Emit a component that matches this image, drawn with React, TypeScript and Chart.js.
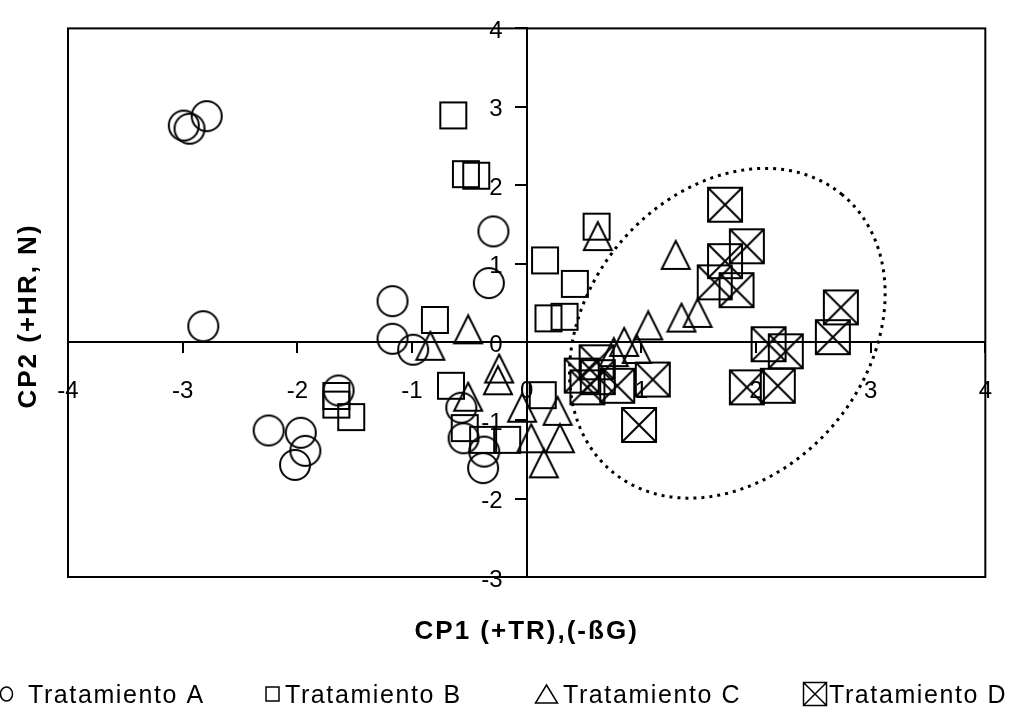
import React, { useEffect, useRef } from 'react';
import { Chart, registerables } from 'chart.js';

Chart.register(...registerables);

// ---- data ----
const seriesLabels = ['Tratamiento A', 'Tratamiento B', 'Tratamiento C', 'Tratamiento D'];

const treatmentAX = [-2.99, -2.94, -2.79, -2.82, -1.17, -1.17, -0.99, -0.29, -0.33, -1.64, -2.25, -1.97, -1.93, -2.02, -0.57, -0.55, -0.37, -0.38];
const treatmentAY = [2.76, 2.72, 2.88, 0.2, 0.52, 0.04, -0.1, 1.41, 0.75, -0.62, -1.13, -1.16, -1.39, -1.57, -0.84, -1.23, -1.4, -1.61];

const treatmentBX = [-0.64, -0.53, -0.44, -0.8, -0.66, -1.66, -1.66, -1.53, -0.54, -0.38, -0.17, 0.61, 0.16, 0.42, 0.19, 0.33, 0.14];
const treatmentBY = [2.89, 2.14, 2.12, 0.28, -0.56, -0.69, -0.8, -0.96, -1.1, -1.25, -1.25, 1.47, 1.04, 0.74, 0.3, 0.32, -0.68];

const treatmentCX = [-0.51, -0.84, -0.24, -0.25, -0.51, -0.04, 0.62, 1.3, 1.06, 1.35, 1.49, 0.85, 0.96, 0.76, 0.27, 0.04, 0.29, 0.15];
const treatmentCY = [0.16, -0.05, -0.34, -0.49, -0.7, -0.84, 1.35, 1.11, 0.21, 0.31, 0.37, 0.0, -0.09, -0.13, -0.88, -1.23, -1.23, -1.55];

const treatmentDX = [1.73, 1.92, 1.73, 1.64, 1.83, 2.74, 2.67, 2.11, 2.26, 1.92, 2.19, 1.1, 0.98, 0.61, 0.79, 0.53, 0.48, 0.62];
const treatmentDY = [1.75, 1.22, 1.03, 0.76, 0.66, 0.44, 0.06, -0.03, -0.12, -0.58, -0.56, -0.48, -1.06, -0.26, -0.56, -0.58, -0.43, -0.45];

const xRange = [-4, 4];
const yRange = [-3, 4];

// dotted ellipse (data units): centre and two conjugate half-axis vectors
const ellipseCenter = [1.75, 0.11];
const ellipseAxisU = [0.996, 1.776];
const ellipseAxisV = [0.95, -1.128];

const xTitle = 'CP1 (+TR),(-ßG)';
const yTitle = 'CP2 (+HR, N)';

const FONT = "'Liberation Sans', Arial, Helvetica, sans-serif";

function toPoints(xs: number[], ys: number[]) {
  return xs.map((x, i) => ({ x, y: ys[i] }));
}

function makeImg(w: number, h: number, draw: (ctx: CanvasRenderingContext2D) => void) {
  const c = document.createElement('canvas');
  c.width = w;
  c.height = h;
  const ctx = c.getContext('2d') as CanvasRenderingContext2D;
  ctx.strokeStyle = '#000';
  ctx.lineWidth = 2;
  draw(ctx);
  return c;
}

function drawSymbol(ctx: CanvasRenderingContext2D, kind: number, cx: number, cy: number) {
  ctx.save();
  ctx.strokeStyle = '#000';
  ctx.lineWidth = 1.5;
  ctx.beginPath();
  if (kind === 0) {
    ctx.ellipse(cx, cy, 6, 7, 0, 0, Math.PI * 2);
  } else if (kind === 1) {
    ctx.rect(cx - 6.5, cy - 7, 13, 14);
  } else if (kind === 2) {
    ctx.moveTo(cx, cy - 9);
    ctx.lineTo(cx + 11, cy + 9);
    ctx.lineTo(cx - 11, cy + 9);
    ctx.closePath();
  } else {
    ctx.rect(cx - 11.5, cy - 11.5, 23, 23);
    ctx.moveTo(cx - 11.5, cy - 11.5);
    ctx.lineTo(cx + 11.5, cy + 11.5);
    ctx.moveTo(cx + 11.5, cy - 11.5);
    ctx.lineTo(cx - 11.5, cy + 11.5);
  }
  ctx.stroke();
  ctx.restore();
}

const decorPlugin = {
  id: 'decor',
  beforeDatasetsDraw(chart: any) {
    const { ctx, scales } = chart;
    const xs = scales.x;
    const ys = scales.y;
    ctx.save();
    ctx.strokeStyle = '#000';
    ctx.lineWidth = 3;
    ctx.setLineDash([3, 5]);
    ctx.beginPath();
    const n = 240;
    for (let i = 0; i <= n; i++) {
      const t = (i / n) * Math.PI * 2;
      const vx = ellipseCenter[0] + ellipseAxisU[0] * Math.cos(t) + ellipseAxisV[0] * Math.sin(t);
      const vy = ellipseCenter[1] + ellipseAxisU[1] * Math.cos(t) + ellipseAxisV[1] * Math.sin(t);
      const px = xs.getPixelForValue(vx);
      const py = ys.getPixelForValue(vy);
      if (i === 0) ctx.moveTo(px, py);
      else ctx.lineTo(px, py);
    }
    ctx.stroke();
    ctx.restore();

    // y tick labels, placed left of the centred vertical axis
    ctx.save();
    ctx.fillStyle = '#000';
    ctx.font = `24px ${FONT}`;
    ctx.textAlign = 'right';
    ctx.textBaseline = 'middle';
    const axisX = xs.getPixelForValue(0);
    ys.ticks.forEach((t: any) => {
      ctx.fillText(String(t.value), axisX - 24, ys.getPixelForValue(t.value) + 3);
    });
    ctx.restore();
  },
  afterDraw(chart: any) {
    const { ctx, chartArea } = chart;
    ctx.save();
    // frame
    ctx.strokeStyle = '#000';
    ctx.lineWidth = 2;
    ctx.strokeRect(chartArea.left, chartArea.top, chartArea.right - chartArea.left, chartArea.bottom - chartArea.top);

    // axis titles
    ctx.fillStyle = '#000';
    ctx.font = `bold 26px ${FONT}`;
    (ctx as any).letterSpacing = '2px';
    ctx.textAlign = 'center';
    ctx.textBaseline = 'middle';
    ctx.fillText(xTitle, (chartArea.left + chartArea.right) / 2, 632);
    ctx.save();
    ctx.translate(29, 316);
    ctx.rotate(-Math.PI / 2);
    ctx.fillText(yTitle, 0, 0);
    ctx.restore();

    // legend
    const symX = [6.5, 272.5, 546.5, 815];
    const textX = [28, 285, 563, 829];
    ctx.font = `25px ${FONT}`;
    (ctx as any).letterSpacing = '1.6px';
    ctx.textAlign = 'left';
    ctx.textBaseline = 'alphabetic';
    chart.data.datasets.forEach((ds: any, i: number) => {
      drawSymbol(ctx, i, symX[i], 694);
      ctx.fillText(ds.label, textX[i], 703);
    });
    (ctx as any).letterSpacing = '0px';
    ctx.restore();
  },
};

export default function App() {
  const ref = useRef<HTMLCanvasElement | null>(null);

  useEffect(() => {
    if (!ref.current) return;
    const circleImg = makeImg(34, 34, (c) => {
      c.beginPath();
      c.arc(17, 17, 15, 0, Math.PI * 2);
      c.stroke();
    });
    const squareImg = makeImg(30, 30, (c) => {
      c.strokeRect(2, 2, 26, 26);
    });
    const triangleImg = makeImg(32, 32, (c) => {
      c.beginPath();
      c.moveTo(16, 2);
      c.lineTo(30, 30);
      c.lineTo(2, 30);
      c.closePath();
      c.stroke();
    });
    const crossImg = makeImg(38, 38, (c) => {
      c.strokeRect(2, 2, 34, 34);
      c.beginPath();
      c.moveTo(2, 2);
      c.lineTo(36, 36);
      c.moveTo(36, 2);
      c.lineTo(2, 36);
      c.stroke();
    });

    const tickFont = { family: FONT, size: 24 };

    const chart = new Chart(ref.current, {
      type: 'scatter',
      data: {
        datasets: [
          { label: seriesLabels[0], data: toPoints(treatmentAX, treatmentAY), pointStyle: circleImg as any },
          { label: seriesLabels[1], data: toPoints(treatmentBX, treatmentBY), pointStyle: squareImg as any },
          { label: seriesLabels[2], data: toPoints(treatmentCX, treatmentCY), pointStyle: triangleImg as any },
          { label: seriesLabels[3], data: toPoints(treatmentDX, treatmentDY), pointStyle: crossImg as any },
        ],
      },
      options: {
        animation: false,
        responsive: true,
        maintainAspectRatio: false,
        events: [],
        layout: { padding: { left: 68, right: 29, top: 23, bottom: 132 } },
        plugins: {
          legend: { display: false },
          tooltip: { enabled: false },
          title: { display: false },
        },
        scales: {
          x: {
            type: 'linear',
            position: { y: 0 } as any,
            min: xRange[0],
            max: xRange[1],
            ticks: { stepSize: 1, color: '#000', font: tickFont, padding: 25 },
            grid: { display: true, drawOnChartArea: false, drawTicks: true, tickLength: 10, color: '#000', lineWidth: 2 },
            border: { display: true, color: '#000', width: 2 },
          },
          y: {
            type: 'linear',
            position: { x: 0 } as any,
            min: yRange[0],
            max: yRange[1],
            ticks: { stepSize: 1, color: 'rgba(0,0,0,0)', font: tickFont, padding: 14 },
            grid: { display: true, drawOnChartArea: false, drawTicks: true, tickLength: 11, color: '#000', lineWidth: 2 },
            border: { display: true, color: '#000', width: 2 },
          },
        },
      },
      plugins: [decorPlugin],
    });
    return () => chart.destroy();
  }, []);

  return (
    <div style={{ position: 'fixed', left: 0, top: 0, width: 1017, height: 709, background: '#fff' }}>
      <canvas ref={ref} />
    </div>
  );
}
